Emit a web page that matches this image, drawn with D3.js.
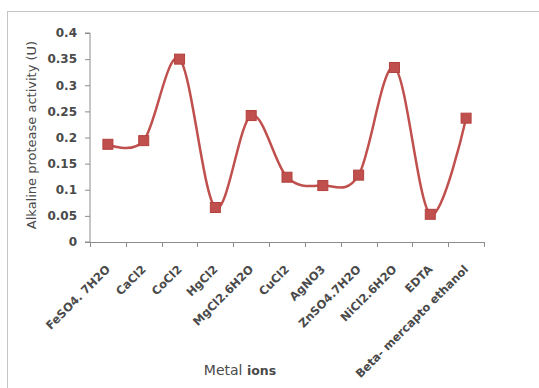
<!DOCTYPE html>
<html><head><meta charset="utf-8">
<script src="https://cdn.jsdelivr.net/npm/d3@7"></script>
<style>body{margin:0;background:#fff}</style>
</head><body>
<svg id="c" width="539" height="388"></svg>
<script>
const categories = ["FeSO4. 7H2O","CaCl2","CoCl2","HgCl2","MgCl2.6H2O","CuCl2","AgNO3","ZnSO4.7H2O","NiCl2.6H2O","EDTA","Beta- mercapto ethanol"];
const activity = [0.187,0.194,0.350,0.066,0.242,0.124,0.108,0.128,0.334,0.053,0.237];
const yTicks = [0,0.05,0.1,0.15,0.2,0.25,0.3,0.35,0.4];
const yTickLabels = ["0","0.05","0.1","0.15","0.2","0.25","0.3","0.35","0.4"];

(function(){
const svg = d3.select("#c");
const mLeft = 90, mRight = 484, mTop = 33, mBottom = 242;
const red = "#c0504d", axisCol = "#8c8c8c", txt = "#4a4a4a";
const font = "DejaVu Sans, Verdana, sans-serif";

// frame
svg.append("rect").attr("x",7.5).attr("y",11.5).attr("width",560).attr("height",400)
  .attr("fill","none").attr("stroke","#c4c4c4").attr("stroke-width",1);

const x = d3.scaleBand().domain(categories).range([mLeft,mRight]);
const y = d3.scaleLinear().domain([0,0.4]).range([mBottom,mTop]);

// y axis
const ya = svg.append("g").attr("transform",`translate(${mLeft},0)`)
  .call(d3.axisLeft(y).tickValues(yTicks).tickFormat((d,i)=>yTickLabels[i]).tickSize(5).tickPadding(8));
ya.select(".domain").attr("stroke",axisCol).attr("d",`M-5,${y(0)}H0V${y(0.4)}H-5`);
ya.selectAll(".tick line").attr("stroke",axisCol);
ya.selectAll(".tick text").attr("fill",txt).attr("font-family",font)
  .attr("font-size","12px").attr("font-weight","bold");

// x axis
const xa = svg.append("g").attr("transform",`translate(0,${mBottom})`);
xa.append("line").attr("x1",mLeft).attr("x2",mRight).attr("y1",0.5).attr("y2",0.5).attr("stroke",axisCol);
const bounds = categories.map(c=>x(c)).concat([x(categories[categories.length-1])+x.bandwidth()]);
xa.selectAll("line.t").data(bounds).join("line").attr("class","t")
  .attr("x1",d=>Math.round(d)+0.5).attr("x2",d=>Math.round(d)+0.5).attr("y1",0).attr("y2",5).attr("stroke",axisCol);
xa.selectAll("text").data(categories).join("text")
  .attr("transform",d=>`translate(${x(d)+x.bandwidth()/2+3},${28}) rotate(-45)`)
  .attr("text-anchor","end").attr("fill",txt)
  .attr("font-family",font).attr("font-size","11.5px").attr("font-weight","bold")
  .text(d=>d);

// titles
svg.append("text").attr("transform","translate(36,135) rotate(-90)").attr("text-anchor","middle")
  .attr("fill",txt).attr("font-family",font).attr("font-size","13px")
  .text("Alkaline protease activity (U)");
const xt = svg.append("text").attr("x",240).attr("y",375).attr("text-anchor","middle")
  .attr("fill",txt).attr("font-family",font).attr("font-size","14px");
xt.append("tspan").text("Metal ");
xt.append("tspan").attr("font-weight","bold").attr("font-size","12.5px").text("ions");

// line
const pts = categories.map((c,i)=>[x(c)+x.bandwidth()/2, y(activity[i])]);
svg.append("path").attr("d",d3.line().curve(d3.curveCatmullRom.alpha(0))(pts))
  .attr("fill","none").attr("stroke",red).attr("stroke-width",2.5);
svg.selectAll("rect.m").data(pts).join("rect").attr("class","m")
  .attr("x",d=>d[0]-5).attr("y",d=>d[1]-5).attr("width",10).attr("height",10)
  .attr("fill",red).attr("stroke","#b4413e").attr("stroke-width",1);
})();
</script>
</body></html>
